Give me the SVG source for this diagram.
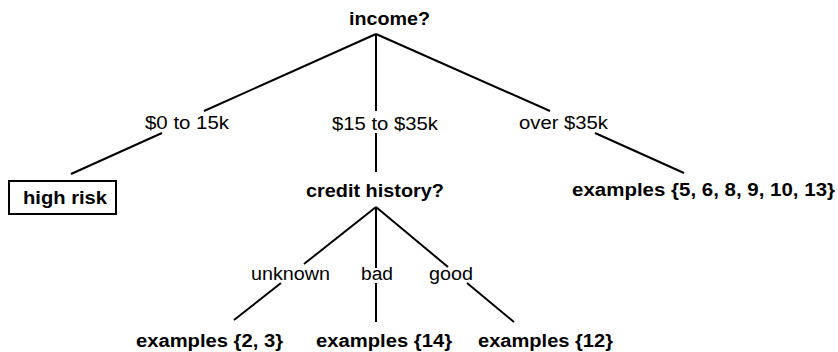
<svg xmlns="http://www.w3.org/2000/svg" width="838" height="352" viewBox="0 0 838 352">
<style>
text{font-family:"Liberation Sans",Arial,Helvetica,sans-serif;font-size:18px;fill:#000}
.b{font-weight:bold}
.e line{stroke:#000;stroke-width:2;fill:none}
.box{fill:#fff;stroke:#000;stroke-width:2}
</style>
<rect width="838" height="352" fill="#fff"/>
<g class="e" id="connectors">
<line x1="376" y1="34" x2="204" y2="111"/>
<line x1="162" y1="133" x2="71" y2="174"/>
<line x1="376" y1="34" x2="376" y2="111"/>
<line x1="376" y1="133" x2="376" y2="172"/>
<line x1="376" y1="34" x2="550" y2="111"/>
<line x1="595" y1="133" x2="684" y2="173"/>
<line x1="376" y1="207" x2="304" y2="264"/>
<line x1="281" y1="283" x2="234" y2="320"/>
<line x1="376" y1="207" x2="376" y2="268"/>
<line x1="376" y1="283" x2="376" y2="322"/>
<line x1="376" y1="207" x2="448" y2="267"/>
<line x1="467" y1="283" x2="514" y2="322"/>
</g>
<g id="labels">
<text x="145" y="129" textLength="84" lengthAdjust="spacingAndGlyphs">$0 to 15k</text>
<text x="332" y="130" textLength="106" lengthAdjust="spacingAndGlyphs">$15 to $35k</text>
<text x="519" y="129" textLength="89" lengthAdjust="spacingAndGlyphs">over $35k</text>
<text x="251" y="280" textLength="79" lengthAdjust="spacingAndGlyphs">unknown</text>
<text x="361" y="280" textLength="32" lengthAdjust="spacingAndGlyphs">bad</text>
<text x="429" y="280" textLength="44" lengthAdjust="spacingAndGlyphs">good</text>
</g>
<g id="income"><text class="b" x="349" y="25" textLength="81" lengthAdjust="spacingAndGlyphs">income?</text></g>
<g id="highrisk"><rect class="box" x="9" y="181" width="107" height="33"/><text class="b" x="23" y="204" textLength="84" lengthAdjust="spacingAndGlyphs">high risk</text></g>
<g id="credit"><text class="b" x="306" y="197" textLength="138" lengthAdjust="spacingAndGlyphs">credit history?</text></g>
<g id="ex5"><text class="b" x="572" y="196" textLength="263" lengthAdjust="spacingAndGlyphs">examples {5, 6, 8, 9, 10, 13}</text></g>
<g id="ex23"><text class="b" x="136" y="347" textLength="147" lengthAdjust="spacingAndGlyphs">examples {2, 3}</text></g>
<g id="ex14"><text class="b" x="316" y="347" textLength="136" lengthAdjust="spacingAndGlyphs">examples {14}</text></g>
<g id="ex12"><text class="b" x="478" y="347" textLength="135" lengthAdjust="spacingAndGlyphs">examples {12}</text></g>
</svg>
